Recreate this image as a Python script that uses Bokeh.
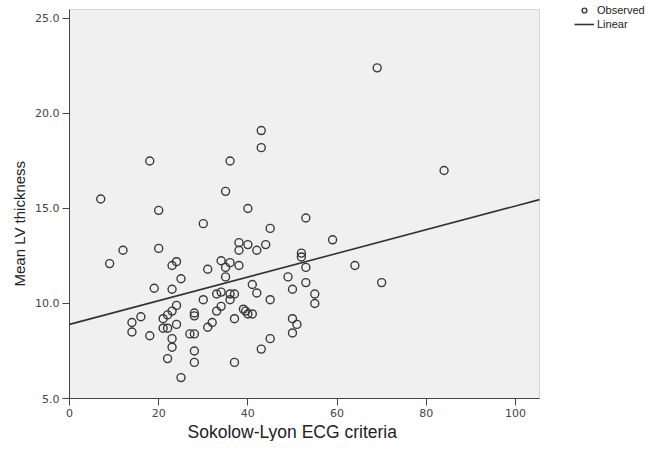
from bokeh.plotting import figure
from bokeh.models import (Range1d, FixedTicker, Legend, LegendItem, ColumnDataSource,
                          PrintfTickFormatter, BoxAnnotation, Title)
from bokeh.embed import file_html
from bokeh.resources import INLINE

# Sokolow-Lyon ECG criteria (x) vs Mean LV thickness (y)
sokolow = [18, 7, 20, 12, 20, 9, 24, 23, 25, 19, 23, 24, 23, 22, 21, 16, 14, 28, 28, 24,
           21, 22, 14, 18, 23, 27, 28, 23, 28, 22, 28, 25, 43, 43, 36, 35, 40, 30, 53, 45,
           38, 40, 44, 38, 42, 52, 52, 34, 36, 35, 38, 31, 53, 35, 49, 53, 41, 50, 42, 34,
           33, 36, 37, 36, 55, 55, 30, 45, 34, 33, 39, 39.5, 40, 41, 37, 32, 31, 50, 51, 50,
           45, 43, 37, 69, 59, 64, 70, 84]
lv_thickness = [17.5, 15.5, 14.9, 12.8, 12.9, 12.1, 12.2, 12.0, 11.3, 10.8, 10.75, 9.9, 9.6, 9.4, 9.2, 9.3, 9.0, 9.5, 9.35, 8.9,
                8.7, 8.7, 8.5, 8.3, 8.15, 8.4, 8.4, 7.7, 7.5, 7.1, 6.9, 6.1, 19.1, 18.2, 17.5, 15.9, 15.0, 14.2, 14.5, 13.95,
                13.2, 13.1, 13.1, 12.8, 12.8, 12.65, 12.45, 12.25, 12.15, 11.9, 12.0, 11.8, 11.9, 11.4, 11.4, 11.1, 11.0, 10.75, 10.55, 10.6,
                10.5, 10.5, 10.5, 10.2, 10.5, 10.0, 10.2, 10.2, 9.85, 9.6, 9.7, 9.6, 9.45, 9.45, 9.2, 9.0, 8.75, 9.2, 8.9, 8.45,
                8.15, 7.6, 6.9, 22.4, 13.35, 12.0, 11.1, 17.0]

# Linear fit line
line_intercept = 8.9
line_slope = 0.0623

x_ticks = [0, 20, 40, 60, 80, 100]
y_ticks = [5, 10, 15, 20, 25]
# plotted data box
x_min, x_max = 0, 105.4
y_min, y_max = 5, 25.47
# canvas ranges (extended so that the legend beside the box is not clipped)
view_x_max = 129.84
view_y_max = 25.944

p = figure(width=648, height=441, output_backend="svg", toolbar_location=None,
           x_range=Range1d(x_min, view_x_max), y_range=Range1d(y_min, view_y_max),
           min_border_left=69, min_border_right=0, min_border_top=0, min_border_bottom=43)

p.background_fill_color = "white"
p.border_fill_color = "white"
p.outline_line_color = None
p.xgrid.visible = False
p.ygrid.visible = False

box = BoxAnnotation(left=x_min, right=x_max, bottom=y_min, top=y_max,
                    fill_color="#f0f0f0", fill_alpha=1, line_color="#8a8a8a",
                    line_width=1, level="underlay")
p.add_layout(box)

src = ColumnDataSource(dict(x=sokolow, y=lv_thickness))
sc = p.scatter("x", "y", source=src, marker="circle", size=8, fill_color=None,
               line_color="#3a3a3a", line_width=1.4)

lx = [x_min, x_max]
ly = [line_intercept + line_slope * v for v in lx]
ln = p.line(lx, ly, line_color="#333333", line_width=1.6)

for ax in (p.xaxis[0], p.yaxis[0]):
    ax.axis_line_color = "#444444"
    ax.major_tick_line_color = "#444444"
    ax.major_tick_out = 7
    ax.major_tick_in = 0
    ax.minor_tick_line_color = None
    ax.major_label_text_font = "DejaVu Sans"
    ax.major_label_text_font_size = "11px"
    ax.major_label_text_color = "#444444"
    ax.major_label_standoff = 3

p.xaxis[0].bounds = (x_min, x_max)
p.yaxis[0].bounds = (y_min, y_max)
p.xaxis[0].ticker = FixedTicker(ticks=x_ticks)
p.yaxis[0].ticker = FixedTicker(ticks=y_ticks)
p.yaxis[0].formatter = PrintfTickFormatter(format="%.1f")

xt = Title(text="Sokolow-Lyon ECG criteria", align="left", offset=118, standoff=0,
           text_font="Liberation Sans", text_font_size="17.5px", text_font_style="normal",
           text_color="#222222")
p.add_layout(xt, "below")
yt = Title(text="Mean LV thickness", align="left", offset=112, standoff=10,
           text_font="Liberation Sans", text_font_size="15px", text_font_style="normal",
           text_color="#222222")
p.add_layout(yt, "left")

legend = Legend(items=[LegendItem(label="Observed", renderers=[sc]),
                       LegendItem(label="Linear", renderers=[ln])],
                location=(505, 368), padding=0, margin=0, spacing=2,
                glyph_width=20, glyph_height=12, label_height=12, label_standoff=3,
                label_text_font="Liberation Sans", label_text_font_size="11px",
                label_text_color="#222222", border_line_color=None,
                background_fill_alpha=0)
p.add_layout(legend)

open("out.html", "w").write(file_html(p, INLINE))
